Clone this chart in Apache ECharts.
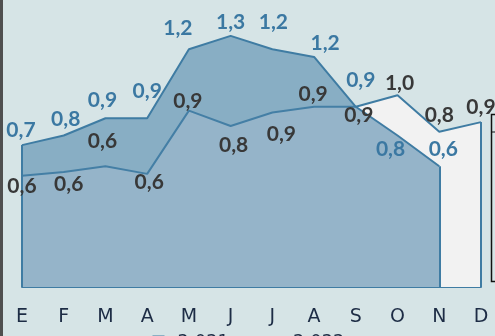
<!DOCTYPE html>
<html>
<head>
<meta charset="utf-8">
<script src="https://cdn.jsdelivr.net/npm/echarts@6/dist/echarts.min.js"></script>
<style>
  html, body { margin: 0; padding: 0; background: #d6e4e6; }
  #chart { width: 495px; height: 336px; }
</style>
</head>
<body>
<div id="chart"></div>
<script>
// Month initials (Spanish)
const months = ['E', 'F', 'M', 'A', 'M', 'J', 'J', 'A', 'S', 'O', 'N', 'D'];

// Monthly values
const values2021 = [0.58, 0.60, 0.63, 0.59, 0.92, 0.84, 0.91, 0.94, 0.94, 1.00, 0.81, 0.86];
const values2022 = [0.74, 0.79, 0.88, 0.88, 1.24, 1.31, 1.24, 1.20, 0.94, 0.79, 0.63];

const seriesNames = ['2 021', '2 022'];

// Label nudges (px) so the value labels do not collide
const labelShift2021 = [[0, 10], [5, 12], [-3, -25], [2, 8], [-1, -9], [3, 19], [9, 22], [-1, -13], [3, 8], [2, -12], [0, -16], [0, -15]];
const labelShift2022 = [[-1, -15], [2, -16], [-3, -18], [0, -27], [-11, -21], [0, -14], [1, -27], [11, -14], [5, -27], [-7, 14], [4, -17]];

const lineBlue = '#3f7ca3';
const fmt = p => p.value.toFixed(1).replace('.', ',');
const labelFont = { fontFamily: 'Lato', fontWeight: 'bold', fontSize: 21 };

function withLabels(values, shifts) {
  return values.map((v, i) => ({ value: v, label: { offset: shifts[i] } }));
}

// vertical closing edge of an area polygon at a given category index
function edge(index, value) {
  return [{ coord: [index, 0] }, { coord: [index, value] }];
}

const chart = echarts.init(document.getElementById('chart'));
chart.setOption({
  backgroundColor: '#d6e4e6',
  animation: false,
  grid: { left: 22, right: 14, top: 9, bottom: 49, containLabel: false },
  xAxis: {
    type: 'category',
    data: months,
    boundaryGap: false,
    axisLine: { show: true, lineStyle: { color: lineBlue, width: 2 } },
    axisTick: { show: false },
    axisLabel: { color: '#1d2c45', fontFamily: 'DejaVu Sans', fontSize: 19, margin: 21 },
    splitLine: { show: false }
  },
  yAxis: {
    type: 'value',
    min: 0,
    max: 1.45,
    show: false,
    splitLine: { show: false }
  },
  legend: {
    left: 152,
    top: 333,
    padding: 0,
    icon: 'rect',
    itemWidth: 12,
    itemHeight: 12,
    itemGap: 39,
    textStyle: { color: '#1d2c45', fontFamily: 'DejaVu Sans', fontSize: 18, padding: [0, 0, 0, 8] },
    data: [
      { name: seriesNames[0], itemStyle: { color: '#f2f2f2', borderColor: lineBlue, borderWidth: 1 } },
      { name: seriesNames[1], itemStyle: { color: '#89aec4' } }
    ]
  },
  series: [
    {
      name: seriesNames[0],
      type: 'line',
      data: values2021,
      symbol: 'none',
      lineStyle: { color: lineBlue, width: 2 },
      areaStyle: { color: '#f2f2f2', opacity: 1 },
      markLine: {
        silent: true, symbol: 'none', label: { show: false },
        lineStyle: { color: lineBlue, width: 2, type: 'solid' },
        data: [edge(0, values2021[0]), edge(values2021.length - 1, values2021[values2021.length - 1])]
      },
      z: 2
    },
    {
      name: seriesNames[1],
      type: 'line',
      data: withLabels(values2022, labelShift2022),
      symbol: 'circle',
      symbolSize: 0.1,
      itemStyle: { color: 'rgba(0,0,0,0)' },
      lineStyle: { color: lineBlue, width: 2 },
      areaStyle: { color: 'rgba(72,130,168,0.55)', opacity: 1 },
      label: Object.assign({ show: true, position: 'inside', formatter: fmt, color: '#3b78a2' }, labelFont),
      markLine: {
        silent: true, symbol: 'none', label: { show: false },
        lineStyle: { color: lineBlue, width: 2, type: 'solid' },
        data: [edge(0, values2022[0]), edge(values2022.length - 1, values2022[values2022.length - 1])]
      },
      z: 3
    },
    {
      // 2021 value labels, kept above both filled areas
      name: seriesNames[0],
      type: 'scatter',
      data: withLabels(values2021, labelShift2021),
      symbolSize: 0.1,
      itemStyle: { color: 'rgba(0,0,0,0)', opacity: 1 },
      label: Object.assign({ show: true, position: 'inside', formatter: fmt, color: '#383838', opacity: 1 }, labelFont),
      silent: true,
      z: 5
    }
  ],
  graphic: [
    // dark strip on the left border
    { type: 'rect', shape: { x: 0, y: 0, width: 3, height: 336 }, style: { fill: '#4f4f4f' }, z: 10 },
    // framed box on the right edge
    { type: 'rect', shape: { x: 491.5, y: 114.5, width: 20, height: 167 }, style: { fill: 'none', stroke: '#111', lineWidth: 1.5 }, z: 10 },
    { type: 'line', shape: { x1: 491, y1: 132, x2: 495, y2: 132 }, style: { stroke: '#111', lineWidth: 1 }, z: 10 }
  ]
});
</script>
</body>
</html>
